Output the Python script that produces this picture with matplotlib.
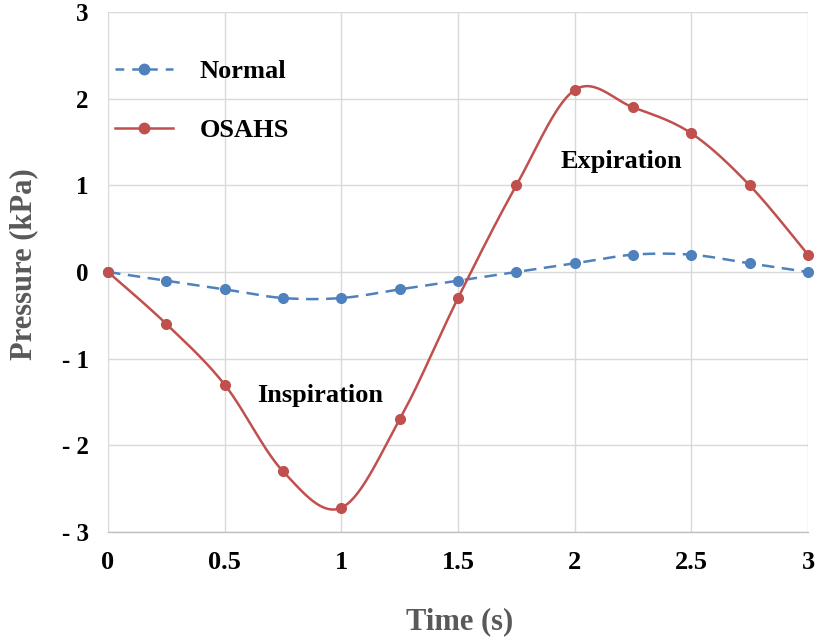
import numpy as np
import matplotlib
matplotlib.use("Agg")
import matplotlib.pyplot as plt

# Data
time_s = [0, 0.25, 0.5, 0.75, 1.0, 1.25, 1.5, 1.75, 2.0, 2.25, 2.5, 2.75, 3.0]
normal = [0, -0.1, -0.2, -0.3, -0.3, -0.2, -0.1, 0.0, 0.1, 0.2, 0.2, 0.1, 0.0]
osahs = [0, -0.6, -1.3, -2.3, -2.72, -1.7, -0.3, 1.0, 2.1, 1.9, 1.6, 1.0, 0.2]

x_ticks = [0, 0.5, 1, 1.5, 2, 2.5, 3]
x_tick_labels = ["0", "0.5", "1", "1.5", "2", "2.5", "3"]
y_ticks = [-3, -2, -1, 0, 1, 2, 3]
y_tick_labels = ["- 3", "- 2", "- 1", "0", "1", "2", "3"]


def smooth(xs, ys, n=40):
    # Excel-style smoothed line (Catmull-Rom through the points as Bezier)
    p = np.column_stack([xs, ys]).astype(float)
    p = np.vstack([p[0], p, p[-1]])
    t = np.linspace(0, 1, n)[:, None]
    out = []
    for i in range(1, len(p) - 2):
        p0, p3 = p[i], p[i + 1]
        c1 = p0 + (p[i + 1] - p[i - 1]) / 6
        c2 = p3 - (p[i + 2] - p[i]) / 6
        seg = ((1 - t) ** 3) * p0 + 3 * ((1 - t) ** 2) * t * c1 + 3 * (1 - t) * t ** 2 * c2 + t ** 3 * p3
        out.append(seg)
    out = np.vstack(out)
    return out[:, 0], out[:, 1]


plt.rcParams["font.family"] = ["Liberation Serif", "DejaVu Serif"]
plt.rcParams["font.weight"] = "bold"

blue = "#4F81BD"
red = "#C0504D"

fig = plt.figure(figsize=(8.16, 6.39), dpi=100)
ax = fig.add_axes([0.1324, 0.1674, 0.8578, 0.8138])

sx, sy = smooth(time_s, normal)
ax.plot(sx, sy, color=blue, lw=1.8, dashes=(5, 3), clip_on=False)
ax.plot(time_s, normal, "o", color=blue, ms=7, clip_on=False, zorder=3)
sx, sy = smooth(time_s, osahs)
ax.plot(sx, sy, color=red, lw=1.8, clip_on=False)
ax.plot(time_s, osahs, "o", color=red, ms=7, clip_on=False, zorder=3)

# legend handles
h1, = ax.plot([], [], color=blue, lw=1.8, dashes=(3.5, 3.2), marker="o", ms=7.5)
h2, = ax.plot([], [], color=red, lw=1.8, marker="o", ms=7.5)
ax.legend([h1, h2], ["Normal", "OSAHS"], loc="upper left", bbox_to_anchor=(0.01, 0.908),
          frameon=False, handlelength=2.2, handletextpad=1.0, labelspacing=1.35,
          borderaxespad=0, borderpad=0, prop={"size": 19, "weight": "bold"})

ax.text(0.91, -1.42, "Inspiration", fontsize=19, fontweight="bold", ha="center", va="center")
ax.text(2.2, 1.28, "Expiration", fontsize=19, fontweight="bold", ha="center", va="center")

ax.set_xlim(0, 3)
ax.set_ylim(-3, 3)
ax.set_xticks(x_ticks)
ax.set_xticklabels(x_tick_labels, fontsize=19, fontweight="bold")
ax.set_yticks(y_ticks)
ax.set_yticklabels(y_tick_labels, fontsize=18, fontweight="bold")
ax.tick_params(axis="both", length=0)
ax.tick_params(axis="x", pad=14)
ax.tick_params(axis="y", pad=14)

ax.grid(True, color="#D9D9D9", lw=1)
ax.set_axisbelow(True)
for side in ["top", "right", "left"]:
    ax.spines[side].set_visible(False)
ax.spines["bottom"].set_color("#BFBFBF")
ax.spines["bottom"].set_linewidth(1)

ax.set_xlabel("Time (s)", fontsize=22, fontweight="bold", color="#595959")
ax.set_ylabel("Pressure (kPa)", fontsize=22, fontweight="bold", color="#595959")
ax.xaxis.set_label_coords(0.503, -0.145)
ax.yaxis.set_label_coords(-0.1, 0.515)

fig.savefig("out.png", dpi=100)
